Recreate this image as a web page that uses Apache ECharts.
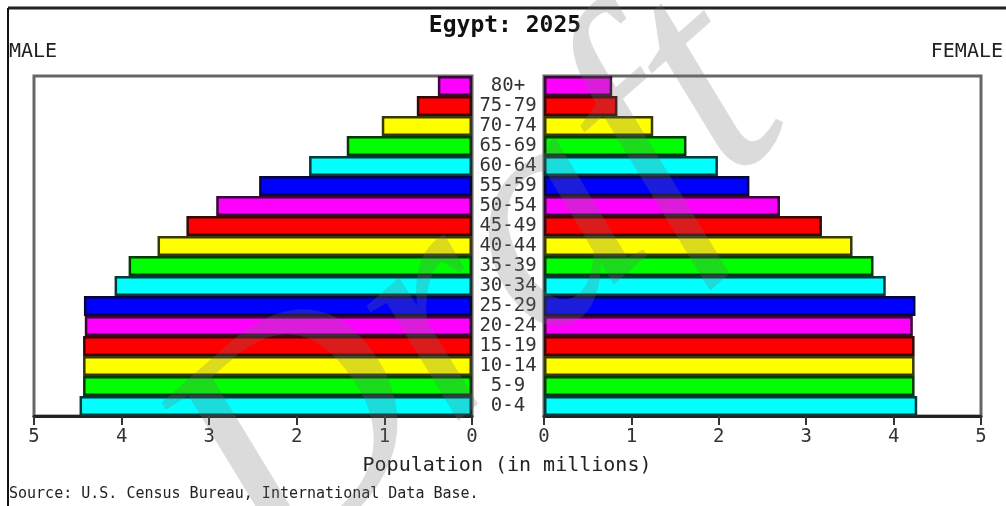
<!DOCTYPE html>
<html>
<head>
<meta charset="utf-8">
<script src="https://cdn.jsdelivr.net/npm/echarts@6/dist/echarts.min.js"></script>
<style>
  html, body { margin: 0; padding: 0; background: #fff; }
  #chart { width: 1006px; height: 506px; }
</style>
</head>
<body>
<div id="chart"></div>
<script>
// age groups, bottom to top
const ages = ['0-4', '5-9', '10-14', '15-19', '20-24', '25-29', '30-34', '35-39', '40-44',
  '45-49', '50-54', '55-59', '60-64', '65-69', '70-74', '75-79', '80+'];
// population in millions
const male = [4.48, 4.44, 4.44, 4.44, 4.42, 4.43, 4.08, 3.92, 3.59, 3.26, 2.92, 2.43, 1.86, 1.43, 1.03, 0.63, 0.39];
const female = [4.27, 4.24, 4.24, 4.24, 4.22, 4.25, 3.91, 3.77, 3.53, 3.18, 2.70, 2.35, 1.99, 1.63, 1.25, 0.84, 0.78];
const tickValues = [0, 1, 2, 3, 4, 5];

const fills = ['#00FFFF', '#00FF00', '#FFFF00', '#FF0000', '#FF00FF', '#0000FF'];
const edges = ['#083838', '#083808', '#383808', '#380808', '#380838', '#080838'];
const mono = '"DejaVu Sans Mono", monospace';

function colored(values) {
  return values.map((v, i) => ({
    value: v,
    itemStyle: { color: fills[i % 6], borderColor: edges[i % 6] }
  }));
}

function valueAxis(grid, inverse) {
  return {
    type: 'value', gridIndex: grid, min: 0, max: 5, interval: 1, inverse: inverse,
    axisLine: { show: true, lineStyle: { color: '#222', width: 3 } },
    axisTick: { show: true, length: 9, lineStyle: { color: '#333', width: 2 } },
    axisLabel: { fontFamily: mono, fontSize: 19, color: '#333', margin: 12,
      formatter: v => tickValues.indexOf(v) >= 0 ? String(v) : '' },
    splitLine: { show: false }
  };
}

const chart = echarts.init(document.getElementById('chart'));
chart.setOption({
  animation: false,
  backgroundColor: '#fff',
  grid: [
    { left: 34, right: 534, top: 76, bottom: 90, show: true, borderColor: '#666', borderWidth: 3, backgroundColor: '#fff' },
    { left: 544, right: 25, top: 76, bottom: 90, show: true, borderColor: '#666', borderWidth: 3, backgroundColor: '#fff' }
  ],
  xAxis: [valueAxis(0, true), valueAxis(1, false)],
  yAxis: [
    { type: 'category', gridIndex: 0, data: ages, axisLine: { show: false }, axisTick: { show: false },
      axisLabel: { show: false } },
    { type: 'category', gridIndex: 1, data: ages, axisLine: { show: false }, axisTick: { show: false },
      axisLabel: { interval: 0, fontFamily: mono, fontSize: 19, color: '#333', align: 'center', margin: 36 } }
  ],
  series: [
    { name: 'MALE', type: 'bar', xAxisIndex: 0, yAxisIndex: 0, barWidth: '100%',
      itemStyle: { borderWidth: 2.5 }, data: colored(male) },
    { name: 'FEMALE', type: 'bar', xAxisIndex: 1, yAxisIndex: 1, barWidth: '100%',
      itemStyle: { borderWidth: 2.5 }, data: colored(female) }
  ],
  graphic: [
    { type: 'line', shape: { x1: 8, y1: 8, x2: 1006, y2: 8 }, style: { stroke: '#222', lineWidth: 3 } },
    { type: 'line', shape: { x1: 8, y1: 8, x2: 8, y2: 506 }, style: { stroke: '#111', lineWidth: 2 } },
    { type: 'text', x: 505, y: 26, style: { text: 'Egypt: 2025', fontFamily: mono, fontSize: 23, fontWeight: 'bold',
      fill: '#111', align: 'center', verticalAlign: 'middle' } },
    { type: 'text', x: 9, y: 52, style: { text: 'MALE', fontFamily: mono, fontSize: 20, fill: '#222',
      align: 'left', verticalAlign: 'middle' } },
    { type: 'text', x: 1003, y: 52, style: { text: 'FEMALE', fontFamily: mono, fontSize: 20, fill: '#222',
      align: 'right', verticalAlign: 'middle' } },
    { type: 'text', x: 507, y: 466, style: { text: 'Population (in millions)', fontFamily: mono, fontSize: 20,
      fill: '#222', align: 'center', verticalAlign: 'middle' } },
    { type: 'text', x: 9, y: 494, style: { text: 'Source: U.S. Census Bureau, International Data Base.',
      fontFamily: mono, fontSize: 15, fill: '#222', align: 'left', verticalAlign: 'middle' } },
    { type: 'text', x: 480, y: 290, rotation: 0.72, z: 100, style: { text: 'Draft',
      fontFamily: '"Liberation Serif", serif', fontStyle: 'italic', fontSize: 320, fill: 'rgba(110,110,110,0.25)',
      align: 'center', verticalAlign: 'middle' } }
  ]
});
</script>
</body>
</html>
